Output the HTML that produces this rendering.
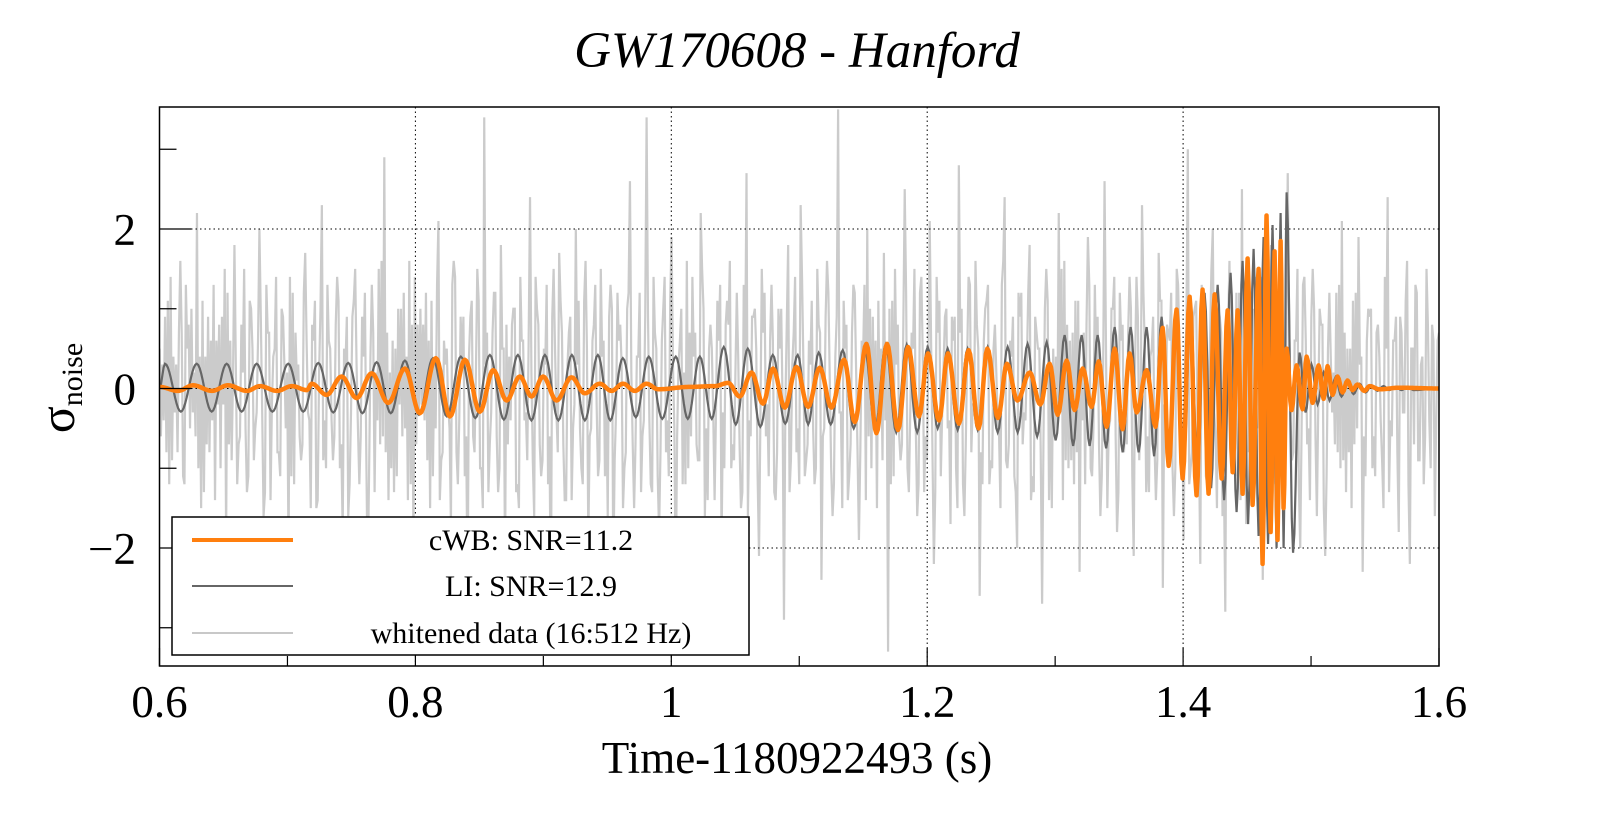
<!DOCTYPE html>
<html><head><meta charset="utf-8"><style>
html,body{margin:0;padding:0;background:#fff;}
svg{display:block;font-family:"Liberation Serif",serif;}
</style></head><body>
<svg id="chart" width="1599" height="813" viewBox="0 0 1599 813" xmlns="http://www.w3.org/2000/svg">
<rect x="0" y="0" width="1599" height="813" fill="#fff"/>
<text x="797" y="67" text-anchor="middle" font-size="51" font-style="italic">GW170608 - Hanford</text>
<g id="plot"></g>
<text x="797" y="773" text-anchor="middle" font-size="45">Time-1180922493 (s)</text>
<text transform="translate(74,388) rotate(-90)" text-anchor="middle"><tspan font-size="50">σ</tspan><tspan font-size="30" dy="8">noise</tspan></text>
</svg>
<script>
const xTicks=[0.6,0.8,1.0,1.2,1.4,1.6];
const xTickLabels=["0.6","0.8","1","1.2","1.4","1.6"];
const xMinor=[0.7,0.9,1.1,1.3,1.5];
const yTicks=[-2,0,2];
const yTickLabels=["\u22122","0","2"];
const yMinor=[-3,-1,1,3];
const liPeakT=[.6043,.6291,.6525,.6759,.7006,.7241,.7475,.7697,.7918,.8137,.8355,.8582,.8801,.9012,.9223,.9426,.9621,.9824,1.0035,1.0223,1.0410,1.0598,1.0793,1.0988,1.1152,1.1340,1.1512,1.1676,1.1840,1.2004,1.2160,1.2316,1.2473,1.2629,1.2785,1.2934,1.3074,1.3207,1.3332,1.3465,1.3590,1.3715,1.3832,1.3949,1.4059,1.4168,1.4270,1.4371,1.4465,1.4551,1.4629,1.4699,1.4762,1.4809,1.4910,1.5004,1.5098,1.5191,1.5285,1.5379,1.5473,1.5566,1.5660,1.5754];
const liPeakA=[.31,.31,.31,.31,.31,.32,.32,.33,.35,.38,.40,.42,.42,.42,.42,.42,.38,.40,.40,.40,.52,.50,.42,.42,.45,.48,.50,.55,.55,.52,.50,.50,.52,.52,.56,.58,.67,.67,.67,.77,.77,.77,.9,.94,1.0,1.2,1.3,1.45,1.6,1.75,1.9,2.05,2.2,2.46,.45,.3,.2,.14,.1,.06,.04,.03,.02,.02];
const liTroughA=[.29,.29,.29,.29,.29,.30,.31,.31,.33,.35,.37,.39,.40,.40,.40,.40,.36,.38,.38,.38,.45,.48,.44,.45,.45,.50,.50,.55,.55,.50,.52,.52,.55,.55,.60,.65,.72,.72,.75,.8,.8,.85,.95,1.0,1.1,1.25,1.4,1.55,1.7,1.85,1.95,2.0,2.0,2.06,.3,.2,.15,.1,.07,.05,.03,.02,.02,.02];
const cwbT=[.6000,.6145,.6262,.6410,.6535,.6684,.6785,.6918,.7035,.7152,.7189,.7306,.7423,.7541,.7658,.7788,.7918,.8035,.8160,.8270,.8387,.8504,.8608,.8713,.8816,.8908,.8998,.9103,.9220,.9324,.9441,.9533,.9623,.9715,.9806,.9897,1.0144,1.0340,1.0444,1.0535,1.0627,1.0717,1.0795,1.0887,1.0978,1.1069,1.1160,1.1252,1.1350,1.1434,1.1525,1.1603,1.1686,1.1772,1.1850,1.1936,1.2006,1.2092,1.2162,1.2248,1.2324,1.2402,1.2470,1.2553,1.2623,1.2705,1.2801,1.2884,1.2957,1.3020,1.3090,1.3152,1.3215,1.3285,1.3340,1.3402,1.3465,1.3527,1.3582,1.3637,1.3715,1.3785,1.3840,1.3887,1.3949,1.3996,1.4051,1.4105,1.4152,1.4199,1.4246,1.4301,1.4348,1.4387,1.4426,1.4465,1.4504,1.4543,1.4590,1.4621,1.4652,1.4684,1.4715,1.4738,1.4762,1.4785,1.4809,1.4848,1.4887,1.4934,1.4965,1.5012,1.5059,1.5098,1.5129,1.5168,1.5207,1.5246,1.5285,1.5324,1.5363,1.5418,1.5457,1.5535,1.5691,1.6000];
const cwbV=[.02,-.03,.04,-.03,.04,-.03,.03,-.03,.03,-.02,.06,-.08,.15,-.12,.19,-.18,.25,-.31,.38,-.35,.36,-.29,.23,-.15,.15,-.1,.15,-.15,.14,-.06,.06,-.03,.06,-.03,.06,-.01,.02,.03,.07,-.1,.2,-.19,.25,-.24,.27,-.23,.26,-.24,.36,-.42,.56,-.56,.56,-.52,.52,-.35,.44,-.4,.44,-.44,.48,-.5,.5,-.37,.31,-.15,.2,-.2,.31,-.33,.35,-.27,.25,-.23,.34,-.48,.5,-.51,.44,-.3,.23,-.48,.76,-.97,.99,-1.13,1.15,-1.34,1.24,-1.32,1.18,-1.13,.98,-1.05,.98,-1.32,1.63,-1.46,1.5,-2.2,2.17,-1.8,1.72,-1.9,1.85,-1.5,.5,-.27,.29,-.26,.4,-.18,.29,-.13,.28,-.08,.15,-.05,.1,-.02,.05,-.03,.03,-.01,.01,0];
const noiseA=[0.5,-0.4,1.1,-0.9,0.3,1.6,-1.2,0.8,-0.3,2.2,-1.5,0.4,-0.8,1.3,-0.2,0.9,-1.9,0.6,1.8,-0.7,0.2,-1.3,1.0,-0.5,2.0,-1.6,0.7,-0.2,1.4,-1.1,0.3,-2.1,1.2,0.1,-0.9,1.7,-0.4,0.6,-1.4,2.3,-1.0,0.5,-0.6,1.1,-1.8,0.9,-0.3,1.5,-1.2,0.4,-2.4,1.3,0.2,-0.7,2.9,-1.4,0.6,-1.1,1.0,-0.5,1.6,-2.0,0.8,-0.2,1.2,-1.5,0.3,2.1,-0.8,0.5,-1.7,1.4,-0.4,0.9,-2.6,1.1,0.2,-1.0,3.4,-1.3,0.7,-0.6,1.8,-2.2,0.4,1.0,-1.2,0.6,-0.3,2.4,-1.6,0.8,-0.9,1.3,-2.8,0.5,1.7,-0.7,0.3,-1.4,2.0,-0.5,1.1,-1.9,0.6,-0.2,1.5,-1.1,0.9,-2.3,1.2,0.3,-0.8,2.6,-1.5,0.4,-0.6,3.4,-1.2,0.7,-1.8,1.0,-0.4,1.9,-2.5,0.6,0.2,-1.0,1.4,-0.7,2.2,-1.6,0.5,-0.3,1.1,-2.0,0.8,1.6,-0.9,0.4,-1.3,2.7,-0.6,1.0,-2.1,0.7,-0.2,1.3,-1.4,0.5,-2.9,1.8,0.3,-0.8,2.3,-1.1,0.6,-0.5,1.5,-2.4,0.9,0.1,-1.2,3.5,-1.5,0.8,-0.7,1.2,-1.9,0.4,2.0,-1.0,0.6,-0.4,1.7,-3.3,1.1,0.3,-0.9,2.5,-1.3,0.5,-1.6,1.4,-0.6,2.1,-2.2,0.7,-0.3,1.0,-1.7,0.9,2.8,-1.2,0.4,-0.8,1.6,-2.6,0.6,1.3,-1.0,0.2,-1.5,2.4,-0.7,0.9,-2.0,1.2,-0.4,1.8,-1.3,0.5,-2.7,1.5,0.2,-0.6,2.2,-1.4,0.8,-0.9,1.1,-2.3,0.7,1.9,-1.1,0.3,-1.6,2.6,-0.5,1.0,-1.8,0.6,-0.2,1.4,-2.1,0.9,2.3,-1.3,0.4,-0.7,1.7,-2.5,0.8,1.2,-1.0,0.5,-1.9,3.0,-0.8,1.1,-2.2,0.6,-0.3,2.0,-1.5,0.7,-2.8,1.6,0.4,-1.1,2.5,-1.7,0.9,-0.6,1.3,-2.4,1.0,1.8,-1.2,0.3,-1.4,2.7,-0.9,0.6,-2.0,1.4,-0.5,1.5,-1.6,0.8,-2.1,1.2,0.2,-0.8,2.1,-1.3,0.5,-0.7,1.9,-2.3,0.6,1.0,-1.1,0.4,-1.5,2.4,-0.6,0.9,-1.8,0.7,-0.3,1.6,-2.2,0.5,1.3,-0.9,0.3,-1.2,1.5,-0.4,0.8,-1.6,0.6];
const noiseB=[-0.6,0.9,-1.2,0.4,-0.8,0.7,1.3,-0.5,0.2,-1.0,1.1,-0.7,0.6,-1.4,0.8,-0.2,1.2,-0.9,0.3,-0.6,1.5,-1.1,0.5,-0.3,0.9,-1.3,0.7,0.4,-0.8,1.0,-0.5,1.4,-1.2,0.3,-0.7,0.6,-1.5,1.1,0.2,-0.9,1.3,-0.4,0.8,-1.0,0.5,-1.6,0.9,0.3,-0.6,1.2,-1.1,0.7,-0.4,1.6,-0.8,0.2,-1.3,1.0,-0.6,0.4,-1.2,1.4,-0.3,0.8,-0.9,1.1,-0.5,-1.4,0.6,-0.2,1.3,-0.8,0.9,-1.1,0.4,-0.6,1.5,-1.0,0.3,-0.7,1.2,-1.3,0.5,0.8,-0.4,1.0,-1.5,0.6,-0.9,0.2,1.4,-0.7,0.5,-1.2,0.9,-0.3,1.1,-1.4,0.7,-0.5,0.3,-1.0,1.6,-0.6,0.8,-1.1,0.4,-0.2,1.3,-0.9,0.6,-1.5,1.0,0.2,-0.7,1.2,-0.4,0.9,-1.3,0.5,-0.8,1.4,-1.1,0.3,-0.6,1.0,-1.2,0.7,0.4,-0.9,1.5,-0.5,0.8,-1.4,0.6,-0.3,1.1,-1.0,0.2,-0.7,1.3,-1.6,0.9,0.5,-0.4,1.2,-1.1,0.6,-0.8,1.0,-0.2,-1.3,0.7,-0.5,1.4,-0.9,0.3,-1.2,0.8,-0.6,1.6,-1.0,0.4,-0.3,1.1,-1.4,0.7,0.2,-0.8,1.3,-0.6,0.9,-1.5,0.5,-0.4,1.0,-1.1,0.8,-0.7,1.2,-0.3,1.5,-1.2,0.4,-0.9,0.6,-1.3,1.1,0.3,-0.5,0.9,-1.0,0.7,-1.6,1.4,-0.2,0.8,-0.8,1.0,-1.2,0.5,-0.4,1.3,-0.9,0.6,-1.1,1.2,-0.7,0.3,-1.4,0.9,0.5,-0.6,1.1,-1.5,0.4,-0.3,1.6,-1.0,0.7,-0.8,0.2,-1.2,1.3,-0.5,0.9,-1.1,0.6,-0.4,1.4,-1.3,0.8,-0.7,1.0,0.3,-0.9,1.2,-0.6,0.5,-1.4,1.1,-0.2,0.7,-1.0,1.5,-0.8,0.4,-1.2,0.9,-0.5,1.3,-1.1,0.6,-0.3,1.0,-1.6,0.8,0.2,-0.7,1.2,-0.9,0.5,-1.3,1.4,-0.4,0.7,-1.0,0.3,-0.6,1.1,-1.2,0.9,-0.8,1.5,-0.5,0.6,-1.4,1.0,-0.2,0.8,-1.1,0.4,-0.7,1.3,-0.9,0.5,-1.5,1.2,0.3,-0.6,1.0,-1.0,0.7,-0.4,1.4,-1.3,0.6,-0.8,0.9,-0.3,1.1,-1.2,0.5,-0.7,1.2,-0.9,0.4,-0.6,0.8,-1.0,0.6,-0.4,0.7];
const noiseC=[0.3,-0.8,1.4,-0.3,0.7,-1.1,0.5,1.0,-0.6,0.4,-1.3,0.9,-0.4,0.6,-1.0,1.5,-0.7,0.2,-1.2,0.8,-0.5,1.1,-0.9,0.6,-0.3,1.3,-1.4,0.5,-0.8,0.9,0.2,-1.1,0.7,-0.6,1.2,-0.3,0.8,-1.5,1.0,-0.4,0.6,-0.9,1.4,-0.7,0.3,-1.2,1.1,-0.5,0.9,-0.8,0.4,-1.3,1.5,-0.6,0.7,-1.0,0.5,-0.2,1.2,-1.4,0.8,-0.7,1.0,-0.4,0.6,-1.1,1.3,-0.9,0.3,-0.5,1.6,-1.2,0.4,-0.6,0.9,-0.8,1.1,-1.5,0.7,-0.3,1.2,-1.0,0.5,-0.7,0.8,-1.3,1.4,-0.4,0.6,-0.9,1.0,-1.1,0.3,-0.6,1.5,-0.8,0.7,-1.4,0.9,-0.2,1.1,-1.2,0.5,-0.5,1.3,-0.9,0.6,-1.6,1.0,-0.3,0.8,-1.0,1.2,-0.7,0.4,-1.3,0.9,-0.4,1.4,-1.1,0.6,-0.8,1.1,-0.5,0.3,-1.2,1.6,-0.6,0.7,-0.9,1.0,-1.4,0.5,-0.3,1.3,-1.0,0.8,-0.7,1.2,-1.5,0.4,-0.4,0.9,-1.1,1.5,-0.6,0.6,-1.3,1.0,-0.2,0.8,-0.9,1.4,-1.2,0.3,-0.7,1.1,-1.0,0.7,-0.5,1.2,-1.6,0.9,-0.3,0.5,-1.1,1.3,-0.8,0.6,-1.4,1.0,-0.4,1.1,-0.9,0.4,-1.2,1.5,-0.6,0.8,-1.0,0.7,-0.5,1.2,-1.3,0.3,-0.8,1.4,-1.1,0.9,-0.4,0.6,-1.5,1.0,-0.7,1.3,-0.2,0.5,-1.2,1.1,-0.9,0.8,-0.6,1.6,-1.0,0.4,-1.3,0.9,-0.3,1.2,-1.1,0.7,-0.8,1.0,-1.4,0.5,-0.5,1.5,-0.9,0.6,-1.2,1.1,-0.4,0.8,-1.0,1.3,-0.7,0.3,-1.5,1.0,-0.6,1.2,-0.8,0.7,-1.1,1.4,-0.3,0.5,-1.3,0.9,-0.9,1.1,-0.5,0.6,-1.6,1.3,-0.4,0.8,-1.0,1.0,-0.7,0.4,-1.2,1.5,-0.6,0.9,-1.1,0.7,-0.3,1.2,-1.4,0.6,-0.8,1.0,-0.5,1.4,-1.0,0.3,-0.9,1.1,-1.3,0.8,-0.4,0.6,-1.2,1.3,-0.7,0.9,-0.6,1.0,-1.5,0.5,-0.3,1.2,-1.0,0.7,-0.8,1.1,-0.5,0.4,-1.1,0.9,-0.6,0.8,-0.9,0.5,-0.4,0.6];

const W=1599,H=813,L=159.5,R=1439,T=107,B=666;
const x0=0.6,x1=1.6,y0=-3.48,y1=3.53;
const xs=v=>L+(v-x0)/(x1-x0)*(R-L);
const ys=v=>B-(v-y0)/(y1-y0)*(B-T);
const NS='http://www.w3.org/2000/svg';
const plot=document.getElementById('plot');
function mk(tag,attrs,parent){const e=document.createElementNS(NS,tag);for(const k in attrs)e.setAttribute(k,attrs[k]);(parent||plot).appendChild(e);return e;}
function smoothPath(ts,vs){
  let d='M'+xs(ts[0]).toFixed(2)+','+ys(vs[0]).toFixed(2);
  for(let i=0;i<ts.length-1;i++){
    const n=Math.max(4,Math.ceil((xs(ts[i+1])-xs(ts[i]))/1.5));
    for(let k=1;k<=n;k++){const u=k/n;const w=(1-Math.cos(Math.PI*u))/2;
      const t=ts[i]+(ts[i+1]-ts[i])*u;const v=vs[i]+(vs[i+1]-vs[i])*w;
      d+='L'+xs(t).toFixed(2)+','+ys(v).toFixed(2);}
  }
  return d;
}
const defs=mk('defs',{});
const cp=mk('clipPath',{id:'clip'},defs);
mk('rect',{x:L,y:T,width:R-L,height:B-T},cp);
const series=mk('g',{'clip-path':'url(#clip)'});


// noise: interleave the three sample arrays
const noise=[];
for(let i=0;i<noiseA.length;i++){noise.push(noiseA[i]);if(i<noiseB.length)noise.push(noiseB[i]);if(i<noiseC.length)noise.push(noiseC[i]);}
let nd='';
noise.forEach((v,i)=>{const t=x0+(x1-x0)*i/(noise.length-1);nd+=(i?'L':'M')+xs(t).toFixed(2)+','+ys(v).toFixed(2);});
const np=mk('path',{d:nd,fill:'none',stroke:'#cbcbcb','stroke-width':2.2,'stroke-linejoin':'miter'},series);


// grid
xTicks.slice(1,-1).forEach(v=>{const g=mk('line',{x1:xs(v),x2:xs(v),y1:T,y2:B,stroke:'#000','stroke-width':1,'stroke-dasharray':'1.5,3'});

});
yTicks.forEach(v=>{const g=mk('line',{x1:L,x2:R,y1:ys(v),y2:ys(v),stroke:'#000','stroke-width':1,'stroke-dasharray':'1.5,3'});

});
const series2=mk('g',{'clip-path':'url(#clip)'});


const liT=[0.6],liV=[0];
for(let i=0;i<liPeakT.length;i++){liT.push(liPeakT[i]);liV.push(liPeakA[i]);
  const nt=i<liPeakT.length-1?liPeakT[i+1]:1.585;liT.push((liPeakT[i]+nt)/2);liV.push(-liTroughA[i]);}
liT.push(1.6);liV.push(0);
const lp=mk('path',{d:smoothPath(liT,liV),fill:'none',stroke:'#666','stroke-width':2.2},series2);


const cpth=mk('path',{d:smoothPath(cwbT,cwbV),fill:'none',stroke:'#ff7f0e','stroke-width':4.5,'stroke-linejoin':'round'},series2);


const fr=mk('rect',{x:L,y:T,width:R-L,height:B-T,fill:'none',stroke:'#000','stroke-width':1.5});


xTicks.forEach((v,i)=>{const tk=mk('line',{x1:xs(v),x2:xs(v),y1:B,y2:B-18,stroke:'#000','stroke-width':1.2});


const lb=mk('text',{x:xs(v),y:717,'text-anchor':'middle','font-size':45});lb.textContent=xTickLabels[i];

});
xMinor.forEach(v=>{const tk=mk('line',{x1:xs(v),x2:xs(v),y1:B,y2:B-10,stroke:'#000','stroke-width':1.2});

});
yTicks.forEach((v,i)=>{const tk=mk('line',{x1:L,x2:L+32,y1:ys(v),y2:ys(v),stroke:'#000','stroke-width':1.2});


const lb=mk('text',{x:136,y:ys(v)+16,'text-anchor':'end','font-size':45});lb.textContent=yTickLabels[i];

});
yMinor.forEach(v=>{const tk=mk('line',{x1:L,x2:L+17,y1:ys(v),y2:ys(v),stroke:'#000','stroke-width':1.2});

});
const lg=mk('g',{});


mk('rect',{x:172,y:517,width:577,height:138,fill:'#fff',stroke:'#000','stroke-width':1.5},lg);
const legNames=['cWB: SNR=11.2','LI: SNR=12.9','whitened data (16:512 Hz)'];
const legColors=['#ff7f0e','#666','#c8c8c8'];
const legWidths=[4,2,2];
const legY=[540,586,633];
legNames.forEach((n,i)=>{const e=mk('g',{},lg);


mk('line',{x1:192,x2:293,y1:legY[i],y2:legY[i],stroke:legColors[i],'stroke-width':legWidths[i]},e);
const t=mk('text',{x:531,y:legY[i]+10,'text-anchor':'middle','font-size':30},e);t.textContent=n;});
</script>
</body></html>
